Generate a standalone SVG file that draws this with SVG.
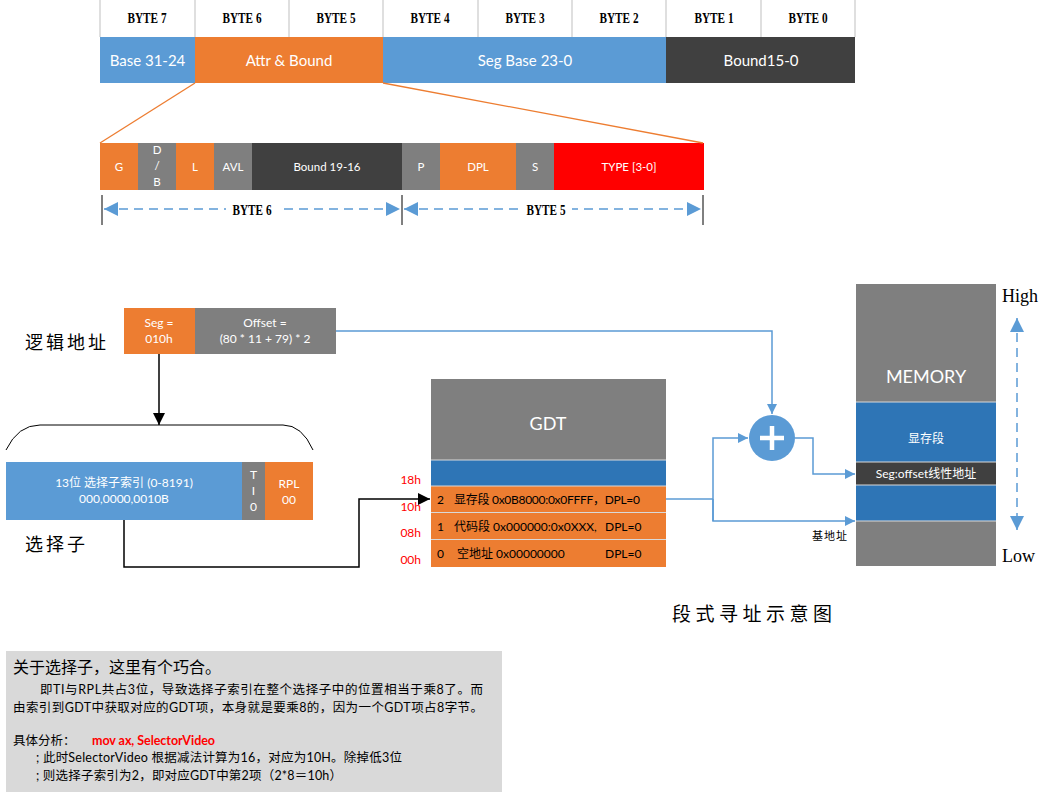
<svg xmlns="http://www.w3.org/2000/svg" width="1054" height="793" viewBox="0 0 1054 793">
<defs>
<marker id="ab" viewBox="0 0 10 10" refX="10" refY="5" markerWidth="10" markerHeight="10" markerUnits="userSpaceOnUse" orient="auto-start-reverse"><path d="M0,0 L10,5 L0,10 z" fill="#5B9BD5"/></marker>
<marker id="abig" viewBox="0 0 10 10" refX="10" refY="5" markerWidth="14" markerHeight="14" markerUnits="userSpaceOnUse" orient="auto-start-reverse"><path d="M0,0 L10,5 L0,10 z" fill="#5B9BD5"/></marker>
<marker id="ak" viewBox="0 0 10 10" refX="10" refY="5" markerWidth="12" markerHeight="12" markerUnits="userSpaceOnUse" orient="auto"><path d="M0,0 L10,5 L0,10 z" fill="#000"/></marker>
</defs>
<style>
.t{font-family:Lato,"Noto Sans CJK SC",sans-serif;fill:#fff;text-anchor:middle}
.hd{font-family:"Liberation Serif",serif;font-weight:bold;font-size:14px;fill:#000;text-anchor:middle}
.cj{font-family:"Noto Sans CJK SC",sans-serif;fill:#000}
.bl{stroke:#5B9BD5;stroke-width:1.5;fill:none}
.sep{stroke:#BFBFBF;stroke-width:1}
.wl{stroke:#D9D9D9;stroke-width:1}
</style>
<rect width="1054" height="793" fill="#fff"/>

<g id="header">
<line class="sep" x1="100" y1="0" x2="100" y2="37"/><line class="sep" x1="195" y1="0" x2="195" y2="37"/><line class="sep" x1="289" y1="0" x2="289" y2="37"/><line class="sep" x1="383" y1="0" x2="383" y2="37"/><line class="sep" x1="478" y1="0" x2="478" y2="37"/><line class="sep" x1="572" y1="0" x2="572" y2="37"/><line class="sep" x1="666" y1="0" x2="666" y2="37"/><line class="sep" x1="761" y1="0" x2="761" y2="37"/><line class="sep" x1="855" y1="0" x2="855" y2="37"/>
<text class="hd" x="147" y="23" textLength="39" lengthAdjust="spacingAndGlyphs">BYTE 7</text><text class="hd" x="242" y="23" textLength="39" lengthAdjust="spacingAndGlyphs">BYTE 6</text><text class="hd" x="336" y="23" textLength="39" lengthAdjust="spacingAndGlyphs">BYTE 5</text><text class="hd" x="430" y="23" textLength="39" lengthAdjust="spacingAndGlyphs">BYTE 4</text><text class="hd" x="525" y="23" textLength="39" lengthAdjust="spacingAndGlyphs">BYTE 3</text><text class="hd" x="619" y="23" textLength="39" lengthAdjust="spacingAndGlyphs">BYTE 2</text><text class="hd" x="714" y="23" textLength="39" lengthAdjust="spacingAndGlyphs">BYTE 1</text><text class="hd" x="808" y="23" textLength="39" lengthAdjust="spacingAndGlyphs">BYTE 0</text>
</g>
<g id="descriptor">
<rect x="100" y="37" width="95" height="46" fill="#5B9BD5"/><text class="t" x="147.5" y="66" font-size="15">Base 31-24</text>
<rect x="195" y="37" width="188" height="46" fill="#ED7D31"/><text class="t" x="289" y="66" font-size="15">Attr &amp; Bound</text>
<rect x="383" y="37" width="283" height="46" fill="#5B9BD5"/><text class="t" x="525" y="66" font-size="15">Seg Base 23-0</text>
<rect x="666" y="37" width="189" height="46" fill="#404040"/><text class="t" x="761" y="66" font-size="15">Bound15-0</text>
</g>
<g id="attr-bits">
<rect x="100" y="143" width="38" height="47" fill="#ED7D31"/><text class="t" x="119" y="171" font-size="11.5">G</text>
<rect x="138" y="143" width="38" height="47" fill="#7F7F7F"/><text class="t" x="157" y="154" font-size="11.5">D</text><text class="t" x="157" y="170" font-size="11.5">/</text><text class="t" x="157" y="186" font-size="11.5">B</text>
<rect x="176" y="143" width="38" height="47" fill="#ED7D31"/><text class="t" x="195" y="171" font-size="11.5">L</text>
<rect x="214" y="143" width="38" height="47" fill="#7F7F7F"/><text class="t" x="233" y="171" font-size="11.5">AVL</text>
<rect x="252" y="143" width="150" height="47" fill="#404040"/><text class="t" x="327" y="171" font-size="11.5">Bound 19-16</text>
<rect x="402" y="143" width="38" height="47" fill="#7F7F7F"/><text class="t" x="421" y="171" font-size="11.5">P</text>
<rect x="440" y="143" width="76" height="47" fill="#ED7D31"/><text class="t" x="478" y="171" font-size="11.5">DPL</text>
<rect x="516" y="143" width="38" height="47" fill="#7F7F7F"/><text class="t" x="535" y="171" font-size="11.5">S</text>
<rect x="554" y="143" width="150" height="47" fill="#FF0000"/><text class="t" x="629" y="171" font-size="11.5">TYPE [3-0]</text>
<line x1="102" y1="195" x2="102" y2="225" stroke="#000"/><line x1="402" y1="195" x2="402" y2="225" stroke="#000"/><line x1="703" y1="195" x2="703" y2="225" stroke="#000"/>
</g>

<g id="connectors">
<line x1="195" y1="83" x2="100" y2="143" stroke="#ED7D31" stroke-width="1.3"/>
<line x1="383" y1="83" x2="703" y2="143" stroke="#ED7D31" stroke-width="1.3"/>
<line x1="104" y1="209" x2="400" y2="209" class="bl" stroke-dasharray="9,6" marker-start="url(#abig)" marker-end="url(#abig)"/>
<line x1="404" y1="209" x2="701" y2="209" class="bl" stroke-dasharray="9,6" marker-start="url(#abig)" marker-end="url(#abig)"/>
<line x1="159" y1="354" x2="159" y2="425" stroke="#000" stroke-width="1.5" marker-end="url(#ak)"/>
<polyline points="124,520 124,567 359,567 359,499 430,499" fill="none" stroke="#000" stroke-width="1.5" marker-end="url(#ak)"/>
<polyline class="bl" points="336,331 772,331 772,414" marker-end="url(#ab)"/>
<polyline class="bl" points="666,499 713,499"/>
<polyline class="bl" points="713,521 713,438 748,438" marker-end="url(#ab)"/>
<polyline class="bl" points="713,499 713,521 855,521" marker-end="url(#ab)"/>
<polyline class="bl" points="795,438 813,438 813,474 855,474" marker-end="url(#ab)"/>
<line x1="1017" y1="318" x2="1017" y2="530" class="bl" stroke-dasharray="9,6" marker-start="url(#abig)" marker-end="url(#abig)"/>
</g>
<rect x="226" y="200" width="52" height="18" fill="#fff"/><text class="hd" x="252" y="215" textLength="39" lengthAdjust="spacingAndGlyphs">BYTE 6</text>
<rect x="520" y="200" width="52" height="18" fill="#fff"/><text class="hd" x="546" y="215" textLength="39" lengthAdjust="spacingAndGlyphs">BYTE 5</text>

<g id="logical">
<text class="cj" x="25" y="349" font-size="18" letter-spacing="3">逻辑地址</text>
<rect x="124" y="308" width="71" height="46" fill="#ED7D31"/><text class="t" x="159" y="327" font-size="12">Seg =</text><text class="t" x="159" y="343" font-size="12">010h</text>
<rect x="195" y="308" width="141" height="46" fill="#7F7F7F"/><text class="t" x="265" y="327" font-size="12">Offset =</text><text class="t" x="265" y="343" font-size="12">(80 * 11 + 79) * 2</text>
</g>
<g id="selector">
<path d="M6,450 Q18,425 40,425 L283,425 Q302,425 313,450" fill="none" stroke="#000" stroke-width="1"/>
<rect x="6" y="462" width="236" height="58" fill="#5B9BD5"/><text class="t" x="124" y="487" font-size="12">13位 选择子索引 (0-8191)</text><text class="t" x="124" y="503" font-size="12">000,0000,0010B</text>
<rect x="242" y="462" width="23" height="58" fill="#7F7F7F"/><text class="t" x="253.5" y="479" font-size="12">T</text><text class="t" x="253.5" y="495" font-size="12">I</text><text class="t" x="253.5" y="511" font-size="12">0</text>
<rect x="265" y="462" width="48" height="58" fill="#ED7D31"/><text class="t" x="289" y="488" font-size="12">RPL</text><text class="t" x="289" y="504" font-size="12">00</text>
<text class="cj" x="25" y="551" font-size="18" letter-spacing="3">选择子</text>
</g>
<g id="gdt">
<rect x="431" y="379" width="235" height="81" fill="#7F7F7F"/><text class="t" x="548" y="430" font-size="18">GDT</text>
<rect x="431" y="460" width="235" height="26" fill="#2E75B6"/>
<rect x="431" y="486" width="235" height="26" fill="#ED7D31"/>
<rect x="431" y="513" width="235" height="26" fill="#ED7D31"/>
<rect x="431" y="540" width="235" height="27" fill="#ED7D31"/>
<line class="wl" x1="431" y1="460" x2="666" y2="460"/><line class="wl" x1="431" y1="486" x2="666" y2="486"/><line class="wl" x1="431" y1="512.5" x2="666" y2="512.5"/><line class="wl" x1="431" y1="539.5" x2="666" y2="539.5"/>
<g font-family="Lato,'Noto Sans CJK SC',sans-serif" font-size="12" fill="#000">
<text x="437" y="504">2</text><text x="454" y="504" textLength="186">显存段 0x0B8000:0x0FFFF，DPL=0</text>
<text x="437" y="531">1</text><text x="454" y="531">代码段 0x000000:0x0XXX,</text><text x="605" y="531">DPL=0</text>
<text x="437" y="558">0</text><text x="457" y="558">空地址 0x00000000</text><text x="605" y="558">DPL=0</text>
</g>
<g font-family="Lato,sans-serif" font-size="12" fill="#FF0000" text-anchor="end">
<text x="421" y="484">18h</text><text x="421" y="511">10h</text><text x="421" y="537">08h</text><text x="421" y="564">00h</text>
</g>
</g>
<g id="adder">
<circle cx="772" cy="438" r="23" fill="#5B9BD5"/>
<path d="M772,426 V450 M760,438 H784" stroke="#fff" stroke-width="4.5"/>
</g>
<g id="memory">
<rect x="856" y="284" width="140" height="118" fill="#7F7F7F"/><text class="t" x="926" y="383" font-size="18">MEMORY</text>
<rect x="856" y="402" width="140" height="60" fill="#2E75B6"/><text class="t" x="926" y="443" font-size="12">显存段</text>
<rect x="856" y="462" width="140" height="23" fill="#404040"/><text class="t" x="926" y="478" font-size="12">Seg:offset线性地址</text>
<rect x="856" y="485" width="140" height="36" fill="#2E75B6"/>
<rect x="856" y="521" width="140" height="45" fill="#7F7F7F"/>
<line class="wl" x1="856" y1="402" x2="996" y2="402"/><line class="wl" x1="856" y1="462" x2="996" y2="462"/><line class="wl" x1="856" y1="485" x2="996" y2="485"/><line class="wl" x1="856" y1="521" x2="996" y2="521"/>
<text class="cj" x="812" y="540" font-size="11" letter-spacing="1">基地址</text>
<text x="1002" y="302" font-family="'Liberation Serif',serif" font-size="18" fill="#000">High</text>
<text x="1002" y="562" font-family="'Liberation Serif',serif" font-size="18" fill="#000">Low</text>
</g>
<text class="cj" x="672" y="621" font-size="19" letter-spacing="4.5">段式寻址示意图</text>
<g id="note">
<rect x="6" y="651" width="496" height="141" fill="#D9D9D9"/>
<text class="cj" x="13" y="673" font-size="16">关于选择子，这里有个巧合。</text>
<g font-family="Lato,'Noto Sans CJK SC',sans-serif" font-size="12.5" fill="#000">
<text x="40" y="694" textLength="443">即TI与RPL共占3位，导致选择子索引在整个选择子中的位置相当于乘8了。而</text>
<text x="13" y="712" textLength="470">由索引到GDT中获取对应的GDT项，本身就是要乘8的，因为一个GDT项占8字节。</text>
<text x="13" y="745">具体分析：</text>
<text x="92" y="745" fill="#FF0000" font-weight="bold" textLength="123">mov ax, SelectorVideo</text>
<text x="36" y="762" textLength="366">; 此时SelectorVideo 根据减法计算为16，对应为10H。除掉低3位</text>
<text x="36" y="780" textLength="306">; 则选择子索引为2，即对应GDT中第2项（2*8＝10h）</text>
</g>
</g>
</svg>
